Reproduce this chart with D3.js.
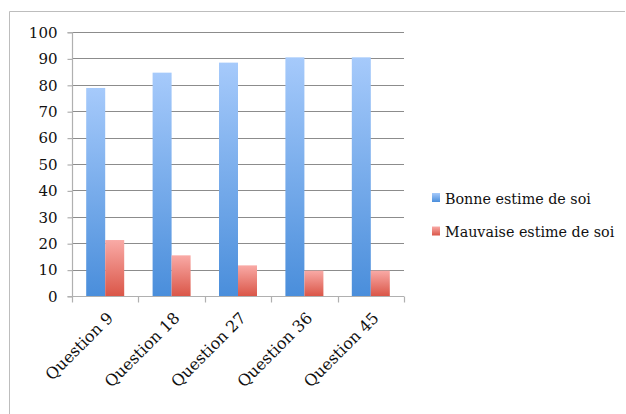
<!DOCTYPE html>
<html>
<head>
<meta charset="utf-8">
<script src="https://cdn.jsdelivr.net/npm/d3@7"></script>
<style>
  body { margin: 0; background: #fff; }
</style>
</head>
<body>
<svg id="chart"></svg>
<script>
// Chart data
const categories = ["Question 9", "Question 18", "Question 27", "Question 36", "Question 45"];
const seriesNames = ["Bonne estime de soi", "Mauvaise estime de soi"];
const bonne = [78.8, 84.6, 88.4, 90.4, 90.4];
const mauvaise = [21.2, 15.4, 11.6, 9.6, 9.6];
const yTicks = [0, 10, 20, 30, 40, 50, 60, 70, 80, 90, 100];

const width = 626, height = 414;
const plot = { left: 72, right: 404, top: 32, bottom: 296 };
const FONT = "'DejaVu Serif', serif";

const svg = d3.select("svg#chart")
  .attr("width", width)
  .attr("height", height);

// gradients for the bars
const defs = svg.append("defs");
const gradColors = [["#a6cafb", "#4a8edb"], ["#f9aaa6", "#da5648"]];
gradColors.forEach((c, i) => {
  const lg = defs.append("linearGradient")
    .attr("id", "grad" + i)
    .attr("x1", 0).attr("y1", 0).attr("x2", 0).attr("y2", 1);
  lg.append("stop").attr("offset", "0%").attr("stop-color", c[0]);
  lg.append("stop").attr("offset", "100%").attr("stop-color", c[1]);
});

// outer frame (top and left only are visible)
svg.append("line")
  .attr("x1", 9.5).attr("x2", 625).attr("y1", 11.5).attr("y2", 11.5)
  .attr("stroke", "#bdbdbd");
svg.append("line")
  .attr("x1", 9.5).attr("x2", 9.5).attr("y1", 11.5).attr("y2", height)
  .attr("stroke", "#bdbdbd");

const xScale = d3.scaleBand().domain(categories).range([plot.left, plot.right]);
const yScale = d3.scaleLinear().domain([0, 100]).range([plot.bottom, plot.top]);

// gridlines
svg.append("g")
  .selectAll("line")
  .data(yTicks.filter(d => d > 0))
  .join("line")
  .attr("x1", plot.left).attr("x2", plot.right)
  .attr("y1", d => Math.round(yScale(d)) + 0.5)
  .attr("y2", d => Math.round(yScale(d)) + 0.5)
  .attr("stroke", "#8c8c8c")
  .attr("stroke-width", 1);

// y axis
const yAxisG = svg.append("g")
  .attr("transform", `translate(${plot.left + 0.5},0.5)`)
  .call(d3.axisLeft(yScale).tickValues(yTicks).tickSize(5).tickPadding(10));
yAxisG.selectAll("path, line").attr("stroke", "#b0b0b0").attr("stroke-width", 1.2);
yAxisG.selectAll("text")
  .style("font-family", FONT).style("font-size", "15px").attr("fill", "#111");
yAxisG.select(".domain").attr("d", `M-5,${Math.round(plot.top)}H0V${plot.bottom}H-5`);

// bars
const barW = 19;
const series = [bonne, mauvaise];
series.forEach((vals, s) => {
  svg.append("g")
    .selectAll("rect")
    .data(vals)
    .join("rect")
    .attr("x", (d, i) => xScale(categories[i]) + xScale.bandwidth() / 2 - barW + s * barW)
    .attr("y", d => yScale(d))
    .attr("width", barW)
    .attr("height", d => plot.bottom - yScale(d))
    .attr("fill", `url(#grad${s})`);
});

// x axis
const xAxisG = svg.append("g")
  .attr("transform", `translate(0,${plot.bottom + 0.5})`);
xAxisG.append("line")
  .attr("x1", plot.left).attr("x2", plot.right)
  .attr("stroke", "#b0b0b0").attr("stroke-width", 1.2);
xAxisG.selectAll(".bound")
  .data(d3.range(categories.length + 1))
  .join("line")
  .attr("class", "bound")
  .attr("x1", i => Math.round(plot.left + i * xScale.step()) + 0.5)
  .attr("x2", i => Math.round(plot.left + i * xScale.step()) + 0.5)
  .attr("y1", 0).attr("y2", 6)
  .attr("stroke", "#b0b0b0").attr("stroke-width", 1.2);

// rotated category labels
svg.append("g")
  .selectAll("text")
  .data(categories)
  .join("text")
  .attr("transform", d => `translate(${xScale(d) + xScale.bandwidth() / 2 + 9},${plot.bottom + 23}) rotate(-45)`)
  .attr("text-anchor", "end")
  .style("font-family", FONT).style("font-size", "16px")
  .attr("fill", "#111")
  .text(d => d);

// legend
const legend = svg.append("g").attr("transform", "translate(432,193)");
seriesNames.forEach((name, i) => {
  const row = legend.append("g").attr("transform", `translate(0,${i * 33.5})`);
  row.append("rect")
    .attr("width", 8).attr("height", 9)
    .attr("fill", `url(#grad${i})`);
  row.append("text")
    .attr("x", 13).attr("y", 10.5)
    .style("font-family", FONT).style("font-size", "14.3px")
    .attr("fill", "#111")
    .text(name);
});
</script>
</body>
</html>
